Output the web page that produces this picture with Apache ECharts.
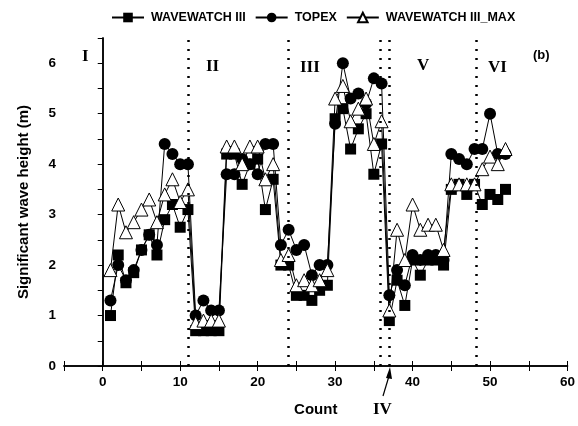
<!DOCTYPE html>
<html>
<head>
<meta charset="utf-8">
<script src="https://cdn.jsdelivr.net/npm/echarts@6/dist/echarts.min.js"></script>
<style>
  html, body { margin: 0; padding: 0; background: #fff; }
  #chart { width: 578px; height: 426px; }
</style>
</head>
<body>
<div id="chart"></div>
<script>
// count index of each sample
var counts = [];
for (var i = 1; i <= 52; i++) counts.push(i);

var ww3 = [1.0, 2.2, 1.65, 1.85, 2.3, 2.6, 2.2, 2.9, 3.2, 2.75, 3.1,
    0.7, 0.7, 0.7, 0.7, 4.2, 4.2, 3.6, 4.0, 4.1, 3.1, 3.7,
    2.0, 2.0, 1.4, 1.4, 1.3, 1.5, 1.6, 4.9, 5.1, 4.3, 4.7, 5.0, 3.8, 4.4,
    0.9,
    1.7, 1.2, 2.1, 1.8, 2.1, 2.1, 2.0, 3.5, 3.6, 3.4, 3.6,
    3.2, 3.4, 3.3, 3.5];
var topex = [1.3, 2.0, 1.7, 1.9, 2.3, 2.6, 2.4, 4.4, 4.2, 4.0, 4.0,
    1.0, 1.3, 1.1, 1.1, 3.8, 3.8, 4.1, 4.0, 3.8, 4.4, 4.4,
    2.4, 2.7, 2.3, 2.4, 1.8, 2.0, 2.0, 4.8, 6.0, 5.3, 5.4, 5.2, 5.7, 5.6,
    1.4,
    1.9, 1.6, 2.2, 2.1, 2.2, 2.2, 2.1, 4.2, 4.1, 4.0, 4.3,
    4.3, 5.0, 4.2, 4.2];
var ww3Max = [1.9, 3.2, 2.65, 2.85, 3.1, 3.3, 2.85, 3.4, 3.7, 3.25, 3.5,
    0.85, 0.9, 0.9, 0.9, 4.35, 4.35, 4.0, 4.35, 4.35, 3.7, 4.0,
    2.1, 2.2, 1.6, 1.7, 1.6, 1.7, 1.9, 5.3, 5.55, 4.85, 5.1, 5.3, 4.4, 4.85,
    1.1,
    2.7, 2.1, 3.2, 2.7, 2.8, 2.8, 2.3, 3.6, 3.6, 3.6, 3.6,
    3.9, 4.15, 4.0, 4.3];

// region boundaries (dotted verticals)
var boundaries = [11.05, 23.9, 35.8, 37.0, 48.2];

function pairs(vals) {
    return counts.map(function (c, i) { return [c, vals[i]]; });
}

var axisFont = {fontFamily: 'Liberation Sans', fontWeight: 'bold', fontSize: 13.5, color: '#000'};
var roman = {fontFamily: 'Liberation Serif', fontWeight: 'bold', fontSize: 17, fill: '#000'};

var option = {
    animation: false,
    backgroundColor: '#fff',
    grid: {left: 64, right: 8, top: 38, bottom: 60},
    legend: {
        left: 106, top: 6,
        itemWidth: 32, itemHeight: 12, itemGap: 9,
        textStyle: {fontFamily: 'Liberation Sans', fontWeight: 'bold', fontSize: 12.5, color: '#000', padding: [0, 0, 0, 2]},
        data: ['WAVEWATCH III', 'TOPEX', 'WAVEWATCH III_MAX']
    },
    xAxis: [{
        type: 'value', min: -5, max: 60, interval: 5,
        name: 'Count', nameLocation: 'middle', nameGap: 36,
        nameTextStyle: {fontFamily: 'Liberation Sans', fontWeight: 'bold', fontSize: 15, color: '#000'},
        axisLine: {lineStyle: {color: '#000', width: 1.5}},
        axisTick: {length: 5, lineStyle: {color: '#000'}},
        splitLine: {show: false},
        axisLabel: Object.assign({margin: 9, formatter: function (v) { return v % 10 === 0 ? v : ''; }}, axisFont)
    }, {
        type: 'value', min: -5, max: 60, interval: 5, position: 'top',
        axisLine: {lineStyle: {color: '#000', width: 1.5}},
        axisTick: {length: 5, lineStyle: {color: '#000'}},
        splitLine: {show: false},
        axisLabel: {show: false}
    }],
    yAxis: [{
        type: 'value', min: 0, max: 6.5, interval: 0.5,
        name: 'Significant wave height (m)', nameLocation: 'middle', nameGap: 33,
        nameTextStyle: {fontFamily: 'Liberation Sans', fontWeight: 'bold', fontSize: 15, color: '#000'},
        axisLine: {show: true, lineStyle: {color: '#000', width: 1.5}},
        axisTick: {length: 5, lineStyle: {color: '#000'}},
        splitLine: {show: false},
        axisLabel: Object.assign({margin: 8, formatter: function (v) { return v % 1 === 0 ? v : ''; }}, axisFont)
    }, {
        type: 'value', min: 0, max: 6.5, position: 'right',
        axisLine: {show: true, lineStyle: {color: '#000', width: 1.5}},
        axisTick: {show: false}, axisLabel: {show: false}, splitLine: {show: false}
    }],
    series: [{
        name: 'WAVEWATCH III', type: 'line',
        data: pairs(ww3),
        symbol: 'rect', symbolSize: 11,
        itemStyle: {color: '#000'},
        lineStyle: {color: '#000', width: 1},
        markLine: {
            silent: true, symbol: 'none', label: {show: false},
            lineStyle: {color: '#000', type: [2, 7], width: 2.5},
            data: boundaries.map(function (b) { return {xAxis: b}; })
        }
    }, {
        name: 'TOPEX', type: 'line',
        data: pairs(topex),
        symbol: 'circle', symbolSize: 12,
        itemStyle: {color: '#000'},
        lineStyle: {color: '#000', width: 1}
    }, {
        name: 'WAVEWATCH III_MAX', type: 'line',
        data: pairs(ww3Max),
        symbol: 'triangle', symbolSize: 13,
        itemStyle: {color: '#fff', borderColor: '#000', borderWidth: 1},
        lineStyle: {color: '#000', width: 1}
    }],
    graphic: [
        {type: 'text', left: 82, top: 48, style: Object.assign({text: 'I'}, roman)},
        {type: 'text', left: 206, top: 58, style: Object.assign({text: 'II'}, roman)},
        {type: 'text', left: 300, top: 59, style: Object.assign({text: 'III'}, roman)},
        {type: 'text', left: 417, top: 57, style: Object.assign({text: 'V'}, roman)},
        {type: 'text', left: 488, top: 59, style: Object.assign({text: 'VI'}, roman)},
        {type: 'text', left: 373, top: 401, style: Object.assign({text: 'IV'}, roman)},
        {type: 'text', left: 533, top: 49, style: {text: '(b)', fontFamily: 'Liberation Sans', fontWeight: 'bold', fontSize: 13, fill: '#000'}},
        {type: 'line', shape: {x1: 383, y1: 396, x2: 389, y2: 376}, style: {stroke: '#000', lineWidth: 1.2}},
        {type: 'polygon', shape: {points: [[390, 367], [386, 378], [392, 379]]}, style: {fill: '#000'}}
    ]
};

var chart = echarts.init(document.getElementById('chart'));
chart.setOption(option);
</script>
</body>
</html>
